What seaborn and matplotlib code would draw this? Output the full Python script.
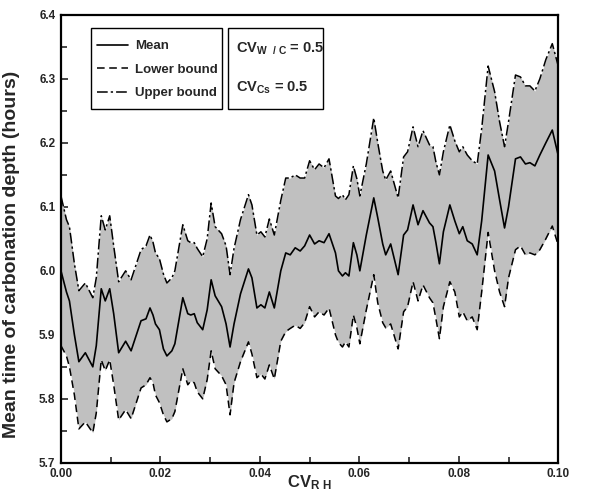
import matplotlib
matplotlib.use("Agg")
import matplotlib.pyplot as plt
import seaborn as sns
import pandas as pd
from matplotlib.patches import Rectangle
from matplotlib.ticker import MultipleLocator, FormatStrFormatter

# ---- data ----
cv_rh = [0.0000, 0.0011, 0.0017, 0.0027, 0.0036, 0.0049, 0.0064, 0.0071, 0.0081, 0.0089,
         0.0098, 0.0106, 0.0116, 0.0130, 0.0141, 0.0161,
         0.0171, 0.0179, 0.0185, 0.0190, 0.0198, 0.0206, 0.0213, 0.0223, 0.0229, 0.0245,
         0.0255, 0.0261, 0.0268, 0.0274, 0.0285, 0.0294, 0.0302, 0.0310, 0.0323, 0.0332,
         0.0340, 0.0348, 0.0361,
         0.0377, 0.0384, 0.0394, 0.0402, 0.0410, 0.0419, 0.0429, 0.0442, 0.0452, 0.0461,
         0.0471, 0.0481, 0.0490, 0.0500, 0.0510, 0.0519, 0.0529, 0.0539, 0.0552,
         0.0558, 0.0566, 0.0572, 0.0579, 0.0588, 0.0595, 0.0601, 0.0614, 0.0629, 0.0637,
         0.0647, 0.0653, 0.0663, 0.0678, 0.0689, 0.0697, 0.0708, 0.0718, 0.0728, 0.0741,
         0.0748, 0.0754, 0.0761, 0.0769, 0.0782, 0.0792, 0.0801, 0.0808, 0.0817, 0.0827,
         0.0837, 0.0846, 0.0859, 0.0872, 0.0882, 0.0892, 0.0900, 0.0914, 0.0924, 0.0934,
         0.0943, 0.0953, 0.0963, 0.0975, 0.0988, 0.1000]

mean_time = [6.000, 5.967, 5.953, 5.900, 5.858, 5.872, 5.850, 5.883, 5.972, 5.953,
             5.972, 5.933, 5.872, 5.890, 5.875, 5.922,
             5.925, 5.942, 5.931, 5.917, 5.908, 5.878, 5.867, 5.875, 5.886, 5.958,
             5.933, 5.931, 5.933, 5.919, 5.908, 5.939, 5.986, 5.961, 5.944, 5.917,
             5.881, 5.917, 5.964,
             6.003, 5.989, 5.942, 5.947, 5.942, 5.967, 5.942, 6.000, 6.028, 6.025,
             6.036, 6.031, 6.039, 6.056, 6.042, 6.047, 6.044, 6.058, 6.028,
             6.000, 5.992, 5.997, 5.992, 6.044, 6.025, 6.000, 6.056, 6.114, 6.083,
             6.042, 6.025, 6.042, 5.994, 6.056, 6.064, 6.103, 6.072, 6.094, 6.075,
             6.069, 6.044, 6.011, 6.061, 6.103, 6.078, 6.058, 6.069, 6.047, 6.042,
             6.025, 6.078, 6.181, 6.156, 6.111, 6.067, 6.100, 6.175, 6.178, 6.167,
             6.169, 6.164, 6.181, 6.200, 6.220, 6.180]

lower_bound = [5.883, 5.867, 5.850, 5.806, 5.753, 5.764, 5.747, 5.778, 5.861, 5.844,
               5.861, 5.822, 5.767, 5.783, 5.769, 5.817,
               5.822, 5.833, 5.825, 5.806, 5.794, 5.775, 5.764, 5.769, 5.780, 5.847,
               5.822, 5.828, 5.825, 5.811, 5.800, 5.830, 5.875, 5.847, 5.836, 5.822,
               5.775, 5.825, 5.858,
               5.889, 5.870, 5.833, 5.839, 5.831, 5.853, 5.831, 5.890, 5.905, 5.910,
               5.915, 5.910, 5.919, 5.944, 5.928, 5.936, 5.931, 5.942, 5.900,
               5.888, 5.881, 5.889, 5.881, 5.931, 5.911, 5.886, 5.939, 5.994, 5.950,
               5.919, 5.911, 5.917, 5.878, 5.936, 5.944, 5.983, 5.953, 5.978, 5.958,
               5.950, 5.925, 5.894, 5.944, 5.983, 5.967, 5.928, 5.936, 5.922, 5.928,
               5.908, 5.967, 6.060, 6.000, 5.967, 5.944, 5.989, 6.033, 6.039, 6.025,
               6.028, 6.025, 6.033, 6.050, 6.070, 6.040]

upper_bound = [6.117, 6.080, 6.069, 6.011, 5.969, 5.981, 5.958, 5.989, 6.086, 6.064,
               6.086, 6.039, 5.983, 6.000, 5.986, 6.033,
               6.039, 6.056, 6.045, 6.028, 6.019, 5.995, 5.981, 5.989, 6.000, 6.072,
               6.047, 6.044, 6.044, 6.035, 6.022, 6.050, 6.106, 6.069, 6.058, 6.039,
               5.994, 6.035, 6.080,
               6.119, 6.103, 6.056, 6.061, 6.053, 6.081, 6.056, 6.110, 6.145, 6.145,
               6.150, 6.145, 6.145, 6.172, 6.158, 6.167, 6.161, 6.175, 6.117,
               6.113, 6.119, 6.111, 6.119, 6.164, 6.144, 6.117, 6.167, 6.239, 6.200,
               6.156, 6.142, 6.156, 6.114, 6.178, 6.186, 6.225, 6.194, 6.219, 6.197,
               6.194, 6.170, 6.150, 6.186, 6.228, 6.203, 6.186, 6.194, 6.181, 6.172,
               6.167, 6.222, 6.320, 6.280, 6.233, 6.194, 6.233, 6.306, 6.303, 6.289,
               6.289, 6.281, 6.300, 6.330, 6.355, 6.320]

x_ticks = [0.00, 0.02, 0.04, 0.06, 0.08, 0.10]
y_ticks = [5.7, 5.8, 5.9, 6.0, 6.1, 6.2, 6.3, 6.4]

df = pd.DataFrame({"cv_rh": cv_rh, "Mean": mean_time,
                   "Lower bound": lower_bound, "Upper bound": upper_bound})

sns.set_theme(style="ticks")
plt.rcParams["font.family"] = ["Liberation Sans", "DejaVu Sans"]
plt.rcParams["font.weight"] = "bold"
plt.rcParams["mathtext.fontset"] = "custom"
for k in ("rm", "it", "bf", "sf"):
    plt.rcParams["mathtext." + k] = "Liberation Sans:bold"

fig = plt.figure(figsize=(5.92, 4.95), dpi=100)
ax = fig.add_axes([0.103, 0.065, 0.840, 0.905])

ax.fill_between(df["cv_rh"], df["Lower bound"], df["Upper bound"],
                color="#c0c0c0", linewidth=0, zorder=1)
sns.lineplot(data=df, x="cv_rh", y="Mean", ax=ax, color="black", linewidth=1.2,
             estimator=None, label="Mean", zorder=3)
sns.lineplot(data=df, x="cv_rh", y="Lower bound", ax=ax, color="black", linewidth=1.1,
             linestyle=(0, (5, 3)), estimator=None, label="Lower bound", zorder=3)
sns.lineplot(data=df, x="cv_rh", y="Upper bound", ax=ax, color="black", linewidth=1.1,
             linestyle=(0, (7, 2, 1.5, 2)), estimator=None, label="Upper bound", zorder=3)

ax.set_xlim(0, 0.1)
ax.set_ylim(5.7, 6.4)
ax.set_xticks(x_ticks)
ax.set_yticks(y_ticks)
ax.xaxis.set_minor_locator(MultipleLocator(0.01))
ax.yaxis.set_minor_locator(MultipleLocator(0.05))
ax.xaxis.set_major_formatter(FormatStrFormatter("%.2f"))
ax.yaxis.set_major_formatter(FormatStrFormatter("%.1f"))
ax.tick_params(which="both", direction="in", top=False, right=False, width=1.2,
               labelsize=8.5, pad=4)
ax.tick_params(which="major", length=5)
ax.tick_params(which="minor", length=4)
for lab in ax.get_xticklabels() + ax.get_yticklabels():
    lab.set_fontweight("bold")
for s in ax.spines.values():
    s.set_linewidth(1.6)
    s.set_color("black")

ax.set_xlabel(r"CV$_{\rm R\ H}$", fontsize=12, fontweight="bold")
ax.xaxis.set_label_coords(0.5, -0.024)
ax.xaxis.label.set_va("top")
ax.set_ylabel("Mean time of carbonation depth (hours)", fontsize=14, fontweight="bold")
ax.yaxis.set_label_coords(-0.082, 0.465)

# legend frame and parameter box
ax.add_patch(Rectangle((0.060, 0.790), 0.264, 0.181, transform=ax.transAxes,
                       facecolor="white", edgecolor="black", linewidth=1.0, zorder=4))
ax.add_patch(Rectangle((0.336, 0.790), 0.190, 0.181, transform=ax.transAxes,
                       facecolor="white", edgecolor="black", linewidth=1.0, zorder=4))

leg = ax.legend(loc="upper left", bbox_to_anchor=(0.060, 0.958), borderaxespad=0,
                frameon=False, handlelength=2.3, fontsize=9.5, borderpad=0.5,
                labelspacing=0.85, handletextpad=0.55)
leg.set_zorder(6)
for t in leg.get_texts():
    t.set_fontweight("bold")

ax.text(0.352, 0.925, r"CV$_{\rm W\ \ /\ C}$ = 0.5", transform=ax.transAxes,
        fontsize=10.5, fontweight="bold", va="center", ha="left", zorder=6)
ax.text(0.352, 0.838, r"CV$_{\rm Cs}$ = 0.5", transform=ax.transAxes,
        fontsize=10.5, fontweight="bold", va="center", ha="left", zorder=6)

fig.savefig("out.png", dpi=100)
